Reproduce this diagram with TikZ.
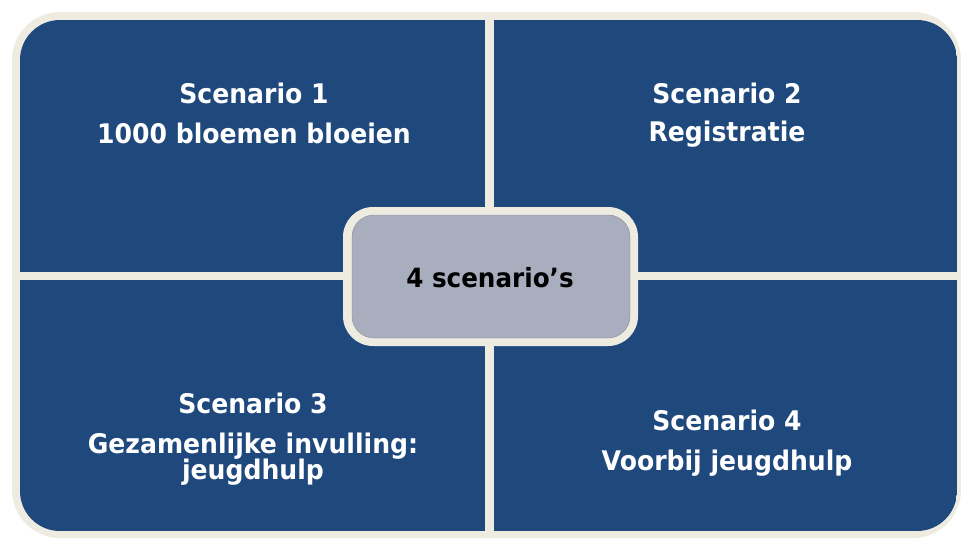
\documentclass[tikz,border=0pt]{standalone}
\usepackage{fontspec}
\setmainfont{DejaVu Sans}
\newfontfamily\lblfont[FakeStretch=0.93]{DejaVu Sans}
\definecolor{qblue}{RGB}{31,73,125}
\definecolor{cream}{RGB}{238,236,225}
\definecolor{cgray}{RGB}{169,174,190}
\begin{document}
\begin{tikzpicture}[x=1pt,y=-1pt,
  quad/.style={fill=qblue,draw=none,inner sep=0pt,anchor=north west},
  lbl/.style={text=white,font=\lblfont\fontsize{27}{30}\selectfont\bfseries,anchor=base,inner sep=0pt},
  clbl/.style={text=black,font=\lblfont\fontsize{26.5}{30}\selectfont\bfseries,anchor=base,inner sep=0pt}]
\useasboundingbox (0,0) rectangle (961,542);
\fill[white] (0,0) rectangle (961,542);
% outer cream frame
\fill[cream,rounded corners=48pt] (12,12) rectangle (961,538);
% quadrants
\begin{scope}
\clip[rounded corners=40pt] (20,20) rectangle (957,531);
\node[quad,minimum width=465pt,minimum height=252pt] (q1) at (20,20) {};
\node[quad,minimum width=463pt,minimum height=252pt] (q2) at (494,20) {};
\node[quad,minimum width=465pt,minimum height=251pt] (q3) at (20,280) {};
\node[quad,minimum width=463pt,minimum height=251pt] (q4) at (494,280) {};
\end{scope}
% centre box
\fill[cream,rounded corners=30pt] (343,207) rectangle (638,346);
\node[fill=cgray,draw=cgray!80!black,line width=0.4pt,rounded corners=22pt,
      minimum width=278pt,minimum height=123pt,inner sep=0pt] (c) at (491,276.5) {};
\node[clbl] (ct) at (490,287) {4 scenario’s};
% labels
\node[lbl] (s1a) at (254,103) {Scenario 1};
\node[lbl] (s1b) at (254,143) {1000 bloemen bloeien};
\node[lbl] (s2a) at (727,103) {Scenario 2};
\node[lbl] (s2b) at (727,141) {Registratie};
\node[lbl] (s3a) at (253,413) {Scenario 3};
\node[lbl] (s3b) at (253,453) {Gezamenlijke invulling:};
\node[lbl] (s3c) at (253,479) {jeugdhulp};
\node[lbl] (s4a) at (727,430) {Scenario 4};
\node[lbl] (s4b) at (727,470) {Voorbij jeugdhulp};
\end{tikzpicture}
\end{document}
